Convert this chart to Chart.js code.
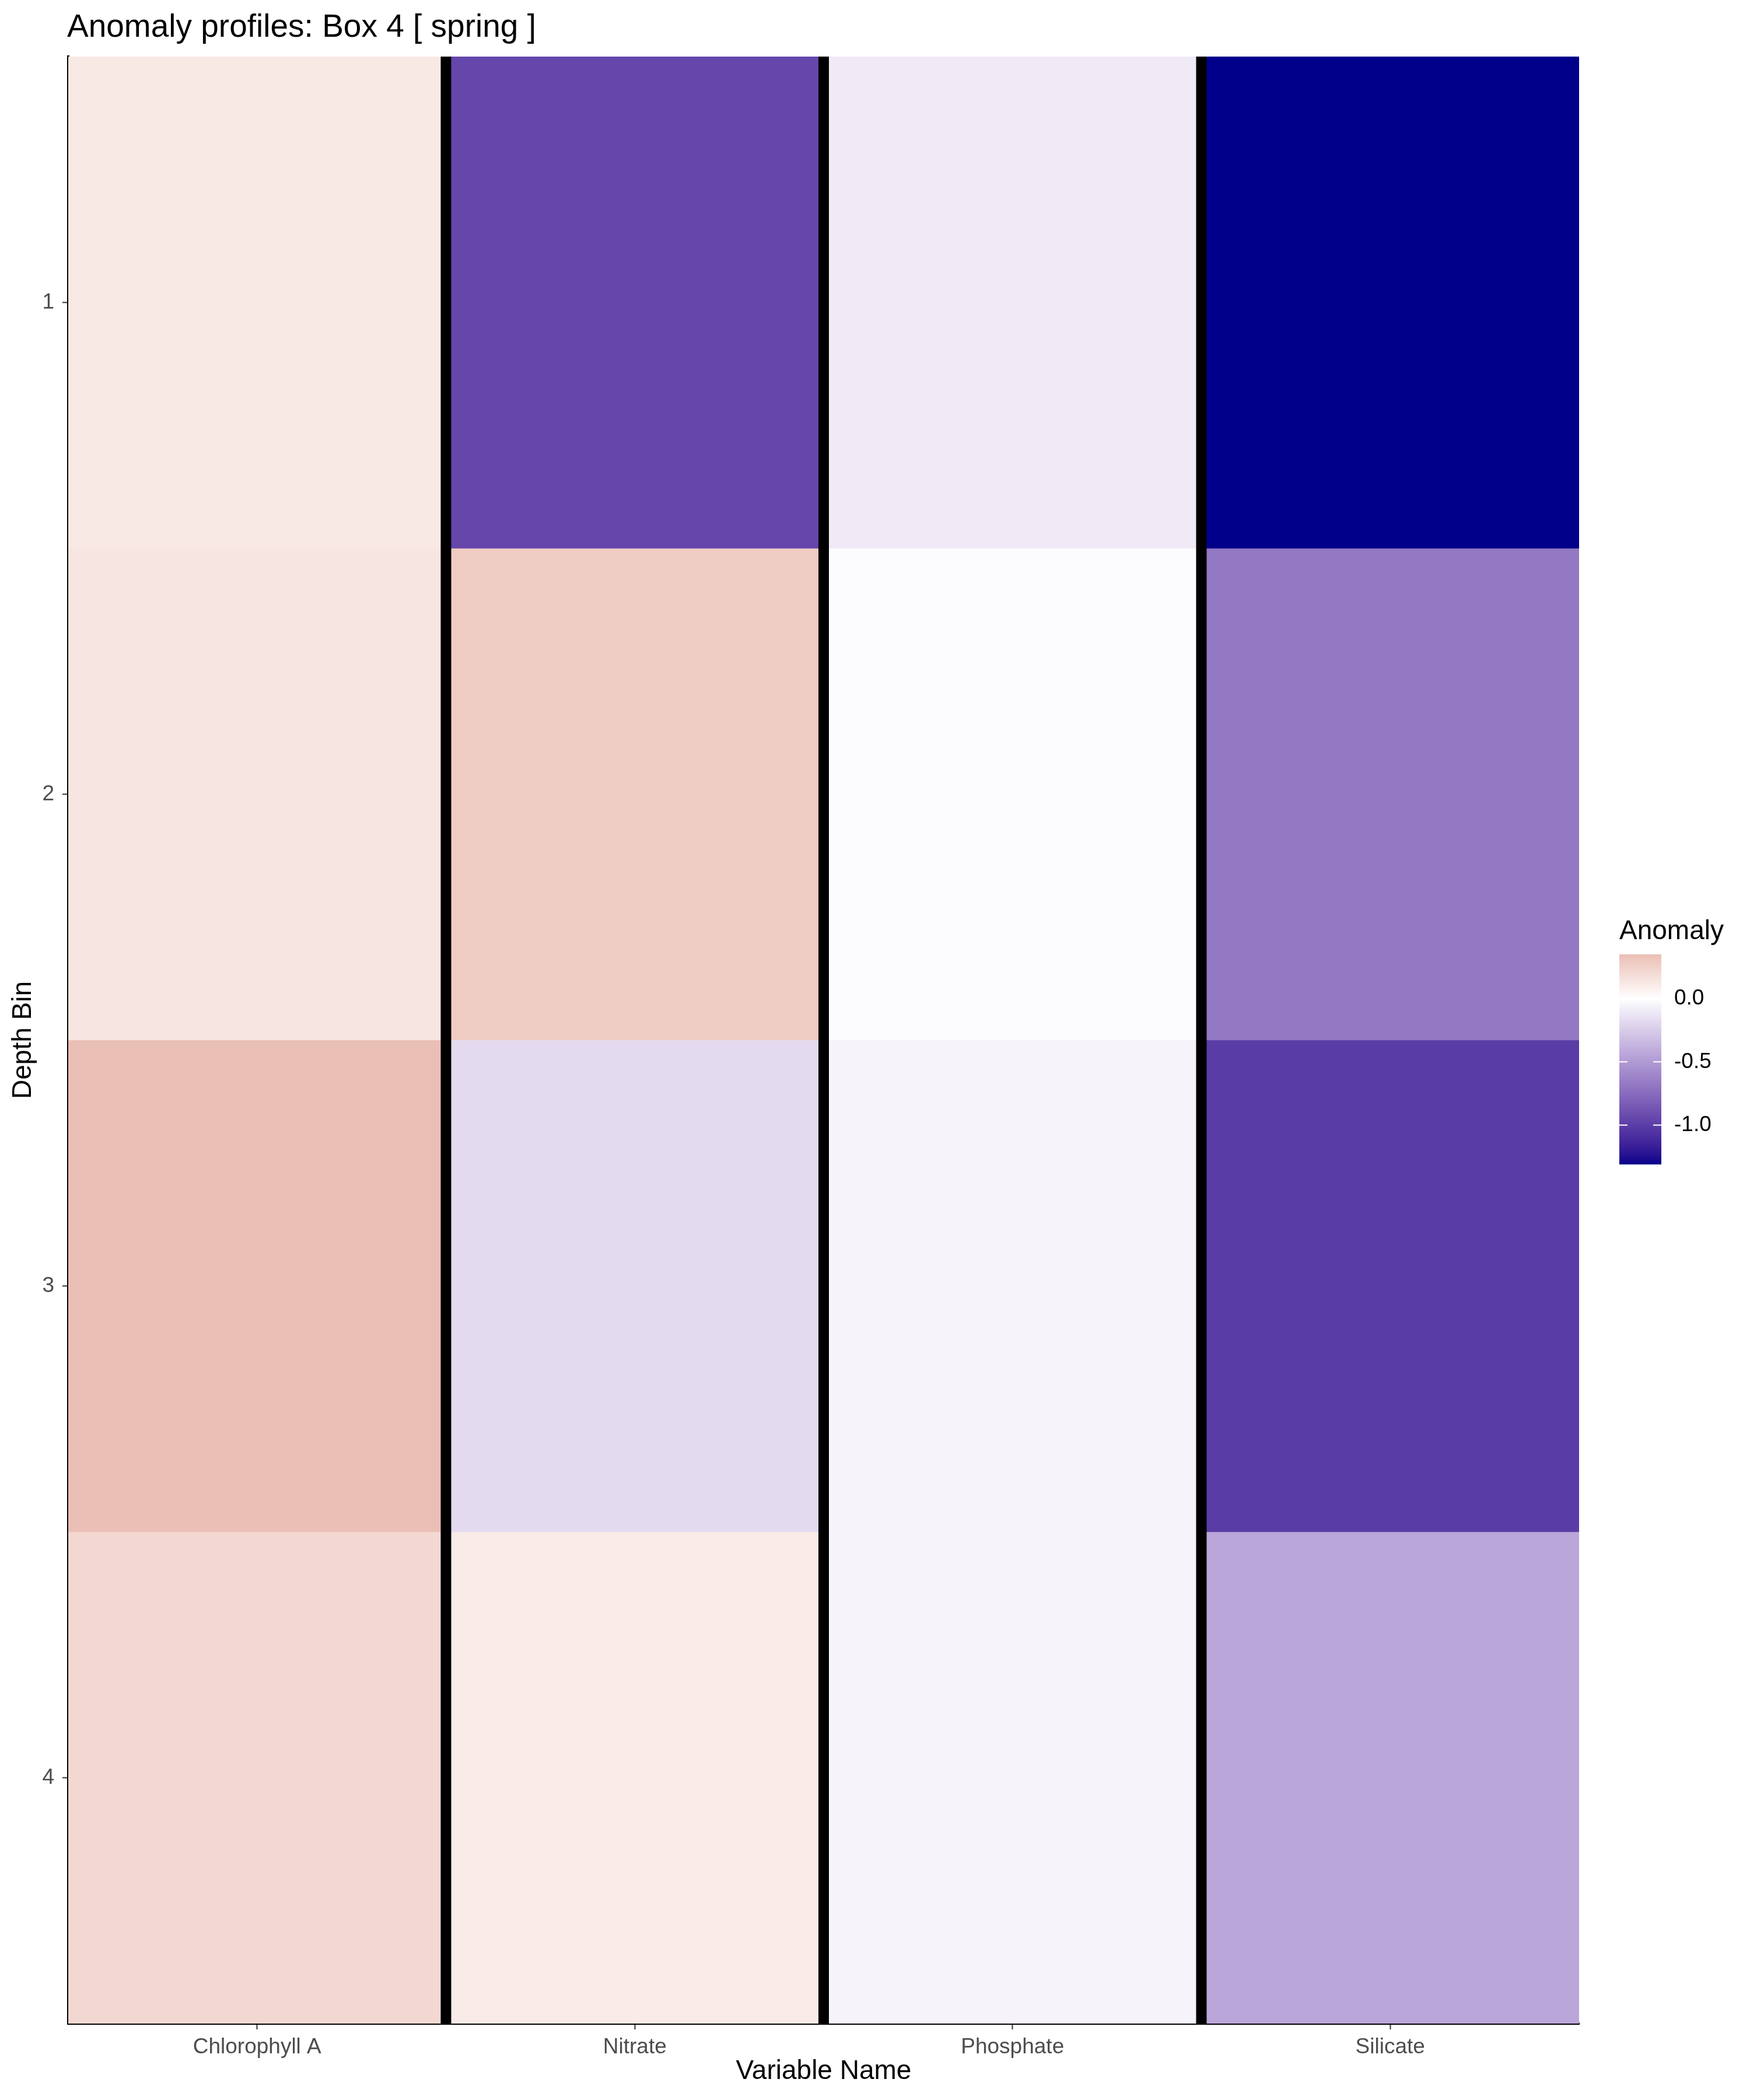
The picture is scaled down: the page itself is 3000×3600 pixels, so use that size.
<!DOCTYPE html>
<html><head><meta charset="utf-8">
<script src="https://cdn.jsdelivr.net/npm/chart.js@4.4.1/dist/chart.umd.min.js"></script>
<style>html,body{margin:0;padding:0;background:#fff}#wrap{width:3000px;height:3600px}</style>
</head><body><div id="wrap"><canvas id="c" width="3000" height="3600"></canvas></div>
<script>
// ---- data ----
const variables = ['Chlorophyll A', 'Nitrate', 'Phosphate', 'Silicate'];
const depthBins = [1, 2, 3, 4];
// anomaly per depth bin (1..4) for each variable
const chlorophyllA = [0.12, 0.14, 0.35, 0.21];
const nitrate = [-0.95, 0.28, -0.18, 0.11];
const phosphate = [-0.10, -0.02, -0.06, -0.06];
const silicate = [-1.31, -0.68, -1.01, -0.44];
const legendTicks = [0.0, -0.5, -1.0];
const chartTitle = 'Anomaly profiles: Box 4 [ spring ]';
const legendTitle = 'Anomaly';

const seriesByVariable = [chlorophyllA, nitrate, phosphate, silicate];

// ---- colour scale (gradient2, Lab interpolation) ----
const LOW = '#00008B', MID = '#FFFFFF', HIGH = '#8B0000';
function hexToRgb(h){h=h.replace('#','');return [0,2,4].map(i=>parseInt(h.substr(i,2),16));}
function s2l(c){c/=255;return c<=0.04045?c/12.92:Math.pow((c+0.055)/1.055,2.4);}
function l2s(c){const v=c<=0.0031308?12.92*c:1.055*Math.pow(c,1/2.4)-0.055;return Math.round(Math.max(0,Math.min(1,v))*255);}
function rgbToLab(rgb){
  const [R,G,B]=rgb.map(s2l);
  const X=(0.4124564*R+0.3575761*G+0.1804375*B)/0.95047;
  const Y=(0.2126729*R+0.7151522*G+0.0721750*B);
  const Z=(0.0193339*R+0.1191920*G+0.9503041*B)/1.08883;
  const f=t=>t>0.008856?Math.cbrt(t):7.787*t+16/116;
  const fx=f(X),fy=f(Y),fz=f(Z);
  return [116*fy-16,500*(fx-fy),200*(fy-fz)];
}
function labToRgb(lab){
  const [L,a,b]=lab;
  const fy=(L+16)/116,fx=fy+a/500,fz=fy-b/200;
  const fi=t=>{const t3=t*t*t;return t3>0.008856?t3:(t-16/116)/7.787;};
  const X=0.95047*fi(fx),Y=fi(fy),Z=1.08883*fi(fz);
  const R=3.2404542*X-1.5371385*Y-0.4985314*Z;
  const G=-0.9692660*X+1.8760108*Y+0.0415560*Z;
  const Bc=0.0556434*X-0.2040259*Y+1.0572252*Z;
  return [l2s(R),l2s(G),l2s(Bc)];
}
const labLow=rgbToLab(hexToRgb(LOW)),labMid=rgbToLab(hexToRgb(MID)),labHigh=rgbToLab(hexToRgb(HIGH));
const allVals=[].concat(...seriesByVariable);
const vMin=Math.min(...allVals), vMax=Math.max(...allVals);
const maxAbs=Math.max(Math.abs(vMin),Math.abs(vMax));
function fillColor(v){
  const t=v/maxAbs/2+0.5;
  let a,b,s;
  if(t<0.5){a=labLow;b=labMid;s=t/0.5;}else{a=labMid;b=labHigh;s=(t-0.5)/0.5;}
  const lab=[0,1,2].map(i=>a[i]+(b[i]-a[i])*s);
  const c=labToRgb(lab);
  return 'rgb('+c[0]+','+c[1]+','+c[2]+')';
}

// ---- datasets: one per depth bin ----
const datasets = depthBins.map((bin, i) => ({
  label: 'Bin ' + bin,
  data: variables.map(() => [bin - 0.5, bin + 0.5]),
  backgroundColor: variables.map((v, j) => fillColor(seriesByVariable[j][i])),
  borderWidth: 0,
  barPercentage: 1.0,
  categoryPercentage: 1.0,
  grouped: false
}));

const FONT = '"Liberation Sans", Arial, Helvetica, sans-serif';

const decorPlugin = {
  id: 'decor',
  afterDatasetsDraw(chart) {
    const {ctx, chartArea, scales} = chart;
    ctx.save();
    ctx.fillStyle = '#000';
    for (let i = 0; i < variables.length - 1; i++) {
      const x = scales.x.getPixelForValue(i + 0.5);
      ctx.fillRect(x - 9, chartArea.top, 18, chartArea.bottom - chartArea.top);
    }
    ctx.restore();
  },
  afterDraw(chart) {
    const {ctx} = chart;
    ctx.save();
    // title
    ctx.fillStyle = '#000';
    ctx.font = '55px ' + FONT;
    ctx.textAlign = 'left';
    ctx.textBaseline = 'alphabetic';
    ctx.fillText(chartTitle, 115, 63);
    // legend
    const bx = 2776, bw = 72, by = 1636, bh = 360;
    ctx.font = '46px ' + FONT;
    ctx.fillText(legendTitle, 2776, 1610);
    for (let k = 0; k < bh; k++) {
      const v = vMax - (k + 0.5) / bh * (vMax - vMin);
      ctx.fillStyle = fillColor(v);
      ctx.fillRect(bx, by + k, bw, 1.2);
    }
    ctx.font = '37px ' + FONT;
    ctx.textBaseline = 'middle';
    legendTicks.forEach(t => {
      const y = by + (vMax - t) / (vMax - vMin) * bh;
      ctx.strokeStyle = '#fff';
      ctx.lineWidth = 2;
      ctx.beginPath();
      ctx.moveTo(bx, y); ctx.lineTo(bx + 14, y);
      ctx.moveTo(bx + bw - 14, y); ctx.lineTo(bx + bw, y);
      ctx.stroke();
      ctx.fillStyle = '#000';
      ctx.fillText(t.toFixed(1), 2870, y);
    });
    ctx.restore();
  }
};

new Chart(document.getElementById('c'), {
  type: 'bar',
  data: { labels: variables, datasets },
  options: {
    responsive: false,
    animation: false,
    devicePixelRatio: 1,
    layout: { padding: { left: 0, right: 293, top: 97, bottom: 0 } },
    plugins: { legend: { display: false }, tooltip: { enabled: false }, title: { display: false } },
    scales: {
      x: {
        type: 'category',
        offset: true,
        afterFit(s) { s.height = 131; },
        grid: { display: true, drawOnChartArea: false, drawTicks: true, tickLength: 10, tickColor: '#333333', tickWidth: 2, offset: false },
        border: { display: true, color: '#000', width: 4 },
        ticks: { color: '#4D4D4D', font: { family: FONT, size: 37 }, padding: 9, maxRotation: 0, autoSkip: false },
        title: { display: true, text: 'Variable Name', color: '#000', font: { family: FONT, size: 46 }, padding: { top: 0, bottom: 21 } }
      },
      y: {
        type: 'linear',
        min: 0.5, max: 4.5,
        reverse: true,
        afterFit(s) { s.width = 117; },
        afterBuildTicks(s) { s.ticks = depthBins.map(v => ({ value: v })); },
        grid: { display: true, drawOnChartArea: false, drawTicks: true, tickLength: 10, tickColor: '#333333', tickWidth: 2 },
        border: { display: true, color: '#000', width: 4 },
        ticks: { color: '#4D4D4D', font: { family: FONT, size: 37 }, padding: 14, callback: v => String(v) },
        title: { display: true, text: 'Depth Bin', color: '#000', font: { family: FONT, size: 46 }, padding: { top: 13, bottom: 0 } }
      }
    }
  },
  plugins: [decorPlugin]
});
</script>
</body></html>
